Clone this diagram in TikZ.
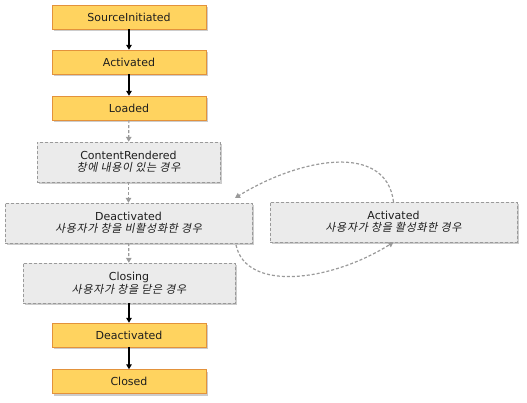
\documentclass[tikz,border=0pt]{standalone}
\usepackage{fontspec}
\setmainfont{DejaVu Sans}
\newfontfamily\krfont[FakeSlant=0.2,LetterSpace=6]{Noto Sans CJK KR}
\usetikzlibrary{shadows,arrows.meta}
\definecolor{boxfill}{HTML}{FFD35F}
\definecolor{boxline}{HTML}{E3923B}
\definecolor{grayfill}{HTML}{EBEBEB}
\definecolor{grayline}{HTML}{9A9A9A}
\definecolor{txt}{HTML}{1E1E1E}

\begin{document}
\begin{tikzpicture}[x=1pt,y=-1pt,
    statebox/.style={draw=boxline,fill=boxfill,minimum width=154pt,minimum height=24pt,inner sep=0pt,
      font=\fontsize{11}{12}\selectfont,text=txt,
      drop shadow={shadow xshift=2pt,shadow yshift=-2pt,opacity=0.2,fill=black}},
    casebox/.style={draw=grayline,dash pattern=on 3pt off 2pt,fill=grayfill,minimum height=40pt,inner sep=0pt,align=center,
      font=\fontsize{11}{12.5}\selectfont,text=txt,
      drop shadow={shadow xshift=2pt,shadow yshift=-2pt,opacity=0.2,fill=black}},
    go/.style={-{Triangle[length=5pt,width=5.5pt]},line width=1.2pt,black},
    maybe/.style={-{Triangle[length=5pt,width=5.5pt]},line width=1.2pt,dash pattern=on 3pt off 2pt,grayline}]
  \useasboundingbox (0,0) rectangle (527,403);
    % main column
    \node[statebox] (src) at (129,17) {SourceInitiated};
    \node[statebox] (act) at (129,62) {Activated};
    \node[statebox] (load) at (129,108) {Loaded};
    \node[casebox,minimum width=183pt] (rend) at (128.5,162) {ContentRendered\\{\krfont 창에 내용이 있는 경우}};
    \node[casebox,minimum width=247pt] (deact) at (128.5,223) {Deactivated\\{\krfont 사용자가 창을 비활성화한 경우}};
    \node[casebox,minimum width=212pt] (clos) at (129,283) {Closing\\{\krfont 사용자가 창을 닫은 경우}};
    \node[statebox] (deact2) at (129,335) {Deactivated};
    \node[statebox] (closed) at (129,381.5) {Closed};
    % side state
    \node[casebox,minimum width=247pt] (actr) at (393.5,222) {Activated\\{\krfont 사용자가 창을 활성화한 경우}};
    \coordinate (backin) at (235,198);
    \coordinate (backout) at (236,245);
    \draw[go] (src) -- (act);
    \draw[go] (act) -- (load);
    \draw[maybe] (load) -- (rend);
    \draw[maybe] (rend) -- (deact);
    \draw[maybe] (deact) -- (clos);
    \draw[go] (clos) -- (deact2);
    \draw[go] (deact2) -- (closed);
    \draw[maybe] (actr.north) .. controls (386,142) and (300,158) .. (backin);
    \draw[maybe] (backout) .. controls (246,292) and (330,282) .. (actr.south);
\end{tikzpicture}
\end{document}
